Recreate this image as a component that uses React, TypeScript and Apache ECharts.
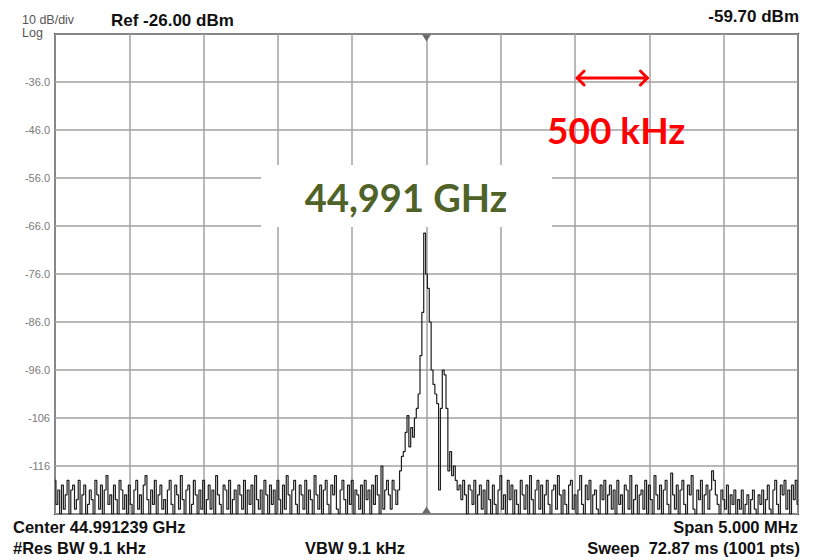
import React, { useEffect, useRef } from 'react';
import * as echarts from 'echarts';

// ---- instrument settings ----
const SPAN_KHZ = 5000;
const REF_LEVEL = -26;
const BOTTOM_LEVEL = -126;
const DB_PER_DIV = 10;
const FREQ_DIV_KHZ = 500;

// ---- trace (dBm) ----
const noiseLeft = [
  -119, -124, -121, -126, -120, -125, -122, -119, -126, -121, -120, -125, -123, -119, -126, -122, -120, -126, -124, -121,
  -123, -126, -119, -122, -125, -120, -126, -121, -118, -124, -122, -126, -120, -123, -126, -119, -121, -125, -122, -126,
  -120, -124, -126, -121, -119, -125, -122, -126, -120, -118, -123, -126, -121, -124, -119, -126, -122, -120, -125, -123,
  -126, -121, -119, -124, -126, -120, -122, -125, -118, -123, -126, -121, -120, -126, -124, -119, -122, -126, -121, -125,
  -119, -126, -123, -120, -125, -121, -126, -118, -122, -124, -126, -120, -121, -125, -119, -126, -123, -121, -126, -120,
  -122, -125, -119, -126, -121, -124, -120, -126, -118, -123, -125, -121, -126, -119, -122, -126, -120, -124, -121, -126,
  -119, -123, -126, -120, -125, -118, -122, -126, -121, -119, -124, -126, -120, -122, -125, -119, -126, -121, -123, -126,
  -118, -122, -125, -120, -126, -121, -119, -124, -126, -120, -122, -118, -125, -126, -121, -119, -123, -126, -120, -124,
  -119, -126, -121, -122, -125, -120, -126, -119, -123, -121, -126, -120, -124, -118, -122, -126, -116, -125, -121, -119,
  -122, -125, -119, -121, -124,
];
const signalPeak = [
  -121, -117, -114, -113, -109, -105.5, -112, -108, -110, -106, -104, -101, -93, -84, -67.5, -76,
  -79, -86, -96, -99, -101, -103, -121, -104, -96, -97, -104, -117, -113, -118, -116,
];
const noiseRight = [
  -119, -121, -120, -123, -119, -122, -126, -120, -121, -124, -119, -126, -122, -120, -125, -121, -126, -119, -123, -126,
  -120, -124, -126, -121, -118, -125, -122, -126, -119, -123, -120, -126, -121, -124, -126, -119, -122, -125, -120, -126,
  -118, -123, -126, -121, -119, -125, -120, -126, -122, -119, -124, -126, -121, -120, -125, -118, -122, -126, -121, -124,
  -126, -120, -119, -125, -122, -126, -121, -118, -124, -126, -120, -123, -119, -126, -122, -121, -125, -126, -120, -123,
  -119, -126, -122, -120, -125, -121, -126, -119, -124, -122, -126, -120, -121, -125, -118, -126, -123, -120, -126, -122,
  -121, -125, -119, -126, -120, -123, -126, -118, -122, -125, -120, -126, -121, -119, -124, -126, -117.5, -122, -125, -120,
  -126, -121, -119, -124, -126, -120, -122, -118, -125, -126, -121, -123, -119, -126, -122, -120, -125, -121, -117, -119,
  -122, -124, -126, -121, -123, -125, -120, -126, -122, -124, -121, -126, -123, -125, -121, -126, -124, -122, -126, -123,
  -121, -125, -126, -122, -124, -121, -126, -123, -120, -125, -126, -121, -119, -124, -126, -120, -122, -119, -125, -121,
  -126, -120, -123, -119, -124,
];

// ---- texts ----
const scaleText = '10 dB/div';
const scaleModeText = 'Log';
const refText = 'Ref -26.00 dBm';
const markerText = '-59.70 dBm';
const centerText = 'Center 44.991239 GHz';
const spanText = 'Span 5.000 MHz';
const rbwText = '#Res BW 9.1 kHz';
const vbwText = 'VBW 9.1 kHz';
const sweepText = 'Sweep  72.87 ms (1001 pts)';
const carrierText = '44,991 GHz';
const divisionText = '500 kHz';

const trace = [...noiseLeft, ...signalPeak, ...noiseRight];

const INSTR_FONT = '"Liberation Sans", Arial, sans-serif';
const BIG_FONT = 'Lato, "Open Sans", sans-serif';

export default function App() {
  const ref = useRef<HTMLDivElement>(null);

  useEffect(() => {
    if (!ref.current) return;
    const chart = echarts.init(ref.current, null, { renderer: 'svg' });
    const step = SPAN_KHZ / (trace.length - 1);
    const data = trace.map((v, i) => [-SPAN_KHZ / 2 + i * step, v]);

    chart.setOption({
      animation: false,
      backgroundColor: '#ffffff',
      grid: {
        left: 55,
        right: 16,
        top: 34,
        bottom: 46,
        show: true,
        backgroundColor: '#ffffff',
        borderColor: '#3a3a3a',
        borderWidth: 2,
      },
      xAxis: {
        type: 'value',
        min: -SPAN_KHZ / 2,
        max: SPAN_KHZ / 2,
        interval: FREQ_DIV_KHZ,
        axisLine: { show: false },
        axisTick: { show: false },
        axisLabel: { show: false },
        splitLine: { show: true, lineStyle: { color: '#a2a2a2', width: 1.5 } },
      },
      yAxis: {
        type: 'value',
        min: BOTTOM_LEVEL,
        max: REF_LEVEL,
        interval: DB_PER_DIV,
        axisLine: { show: false },
        axisTick: { show: false },
        splitLine: { show: true, lineStyle: { color: '#a2a2a2', width: 1.5 } },
        axisLabel: {
          showMinLabel: false,
          showMaxLabel: false,
          margin: 5,
          color: '#7a7a7a',
          fontSize: 11,
          fontFamily: INSTR_FONT,
          formatter: (v: number) => (v <= -100 ? String(Math.round(v)) : v.toFixed(1)),
        },
      },
      series: [
        {
          type: 'line',
          data,
          step: 'middle',
          showSymbol: false,
          symbol: 'none',
          lineStyle: { color: '#1e1e1e', width: 1.2 },
          z: 5,
          markPoint: {
            silent: true,
            label: { show: false },
            data: [
              {
                coord: [0, REF_LEVEL],
                symbol: 'triangle',
                symbolRotate: 180,
                symbolSize: [9, 7],
                symbolOffset: [0, 4],
                itemStyle: { color: '#6a6a6a' },
              },
              {
                coord: [0, BOTTOM_LEVEL],
                symbol: 'triangle',
                symbolSize: [9, 7],
                symbolOffset: [0, -4],
                itemStyle: { color: '#6a6a6a' },
              },
            ],
          },
        },
      ],
    });

    const [ax1, ay0] = chart.convertToPixel({ gridIndex: 0 }, [2 * FREQ_DIV_KHZ, REF_LEVEL - DB_PER_DIV]) as number[];
    const [ax2] = chart.convertToPixel({ gridIndex: 0 }, [3 * FREQ_DIV_KHZ, REF_LEVEL - DB_PER_DIV]) as number[];
    const ay = ay0 - 4;
    const red = '#ff0000';
    const green = '#4f6228';
    const arrowStyle = { stroke: red, lineWidth: 3, lineCap: 'round', lineJoin: 'round', fill: null };

    const txt = (text: string, x: number, y: number, font: string, fill: string, align = 'left') => ({
      type: 'text',
      x,
      y,
      z: 20,
      style: { text, font, fill, align, verticalAlign: 'middle' },
    });

    const bottomFont = `bold 16.5px ${INSTR_FONT}`;

    chart.setOption({
      graphic: [
        txt(scaleText, 22, 20, `12.5px ${INSTR_FONT}`, '#555555'),
        txt(scaleModeText, 22, 33, `12.5px ${INSTR_FONT}`, '#555555'),
        txt(refText, 111, 20, `bold 17px ${INSTR_FONT}`, '#111111'),
        txt(markerText, 799, 16, `bold 17px ${INSTR_FONT}`, '#111111', 'right'),
        txt(centerText, 13, 527, bottomFont, '#111111'),
        txt(spanText, 798, 527, bottomFont, '#111111', 'right'),
        txt(rbwText, 13, 548, bottomFont, '#111111'),
        txt(vbwText, 355, 548, bottomFont, '#111111', 'center'),
        txt(sweepText, 800, 548, bottomFont, '#111111', 'right'),
        {
          type: 'rect',
          z: 15,
          shape: { x: 261, y: 165, width: 291, height: 62 },
          style: { fill: '#ffffff' },
        },
        txt(carrierText, 406, 197, `bold 38px ${BIG_FONT}`, green, 'center'),
        txt(divisionText, 547, 129, `bold 37px ${BIG_FONT}`, red),
        { type: 'line', z: 20, shape: { x1: ax1 + 2, y1: ay, x2: ax2 - 2, y2: ay }, style: arrowStyle },
        {
          type: 'polyline',
          z: 20,
          shape: { points: [[ax1 + 9, ay - 7], [ax1 + 2, ay], [ax1 + 9, ay + 7]] },
          style: arrowStyle,
        },
        {
          type: 'polyline',
          z: 20,
          shape: { points: [[ax2 - 9, ay - 7], [ax2 - 2, ay], [ax2 - 9, ay + 7]] },
          style: arrowStyle,
        },
      ],
    });

    return () => chart.dispose();
  }, []);

  return (
    <div
      ref={ref}
      style={{ position: 'fixed', left: 0, top: 0, width: 814, height: 560, background: '#ffffff' }}
    />
  );
}
